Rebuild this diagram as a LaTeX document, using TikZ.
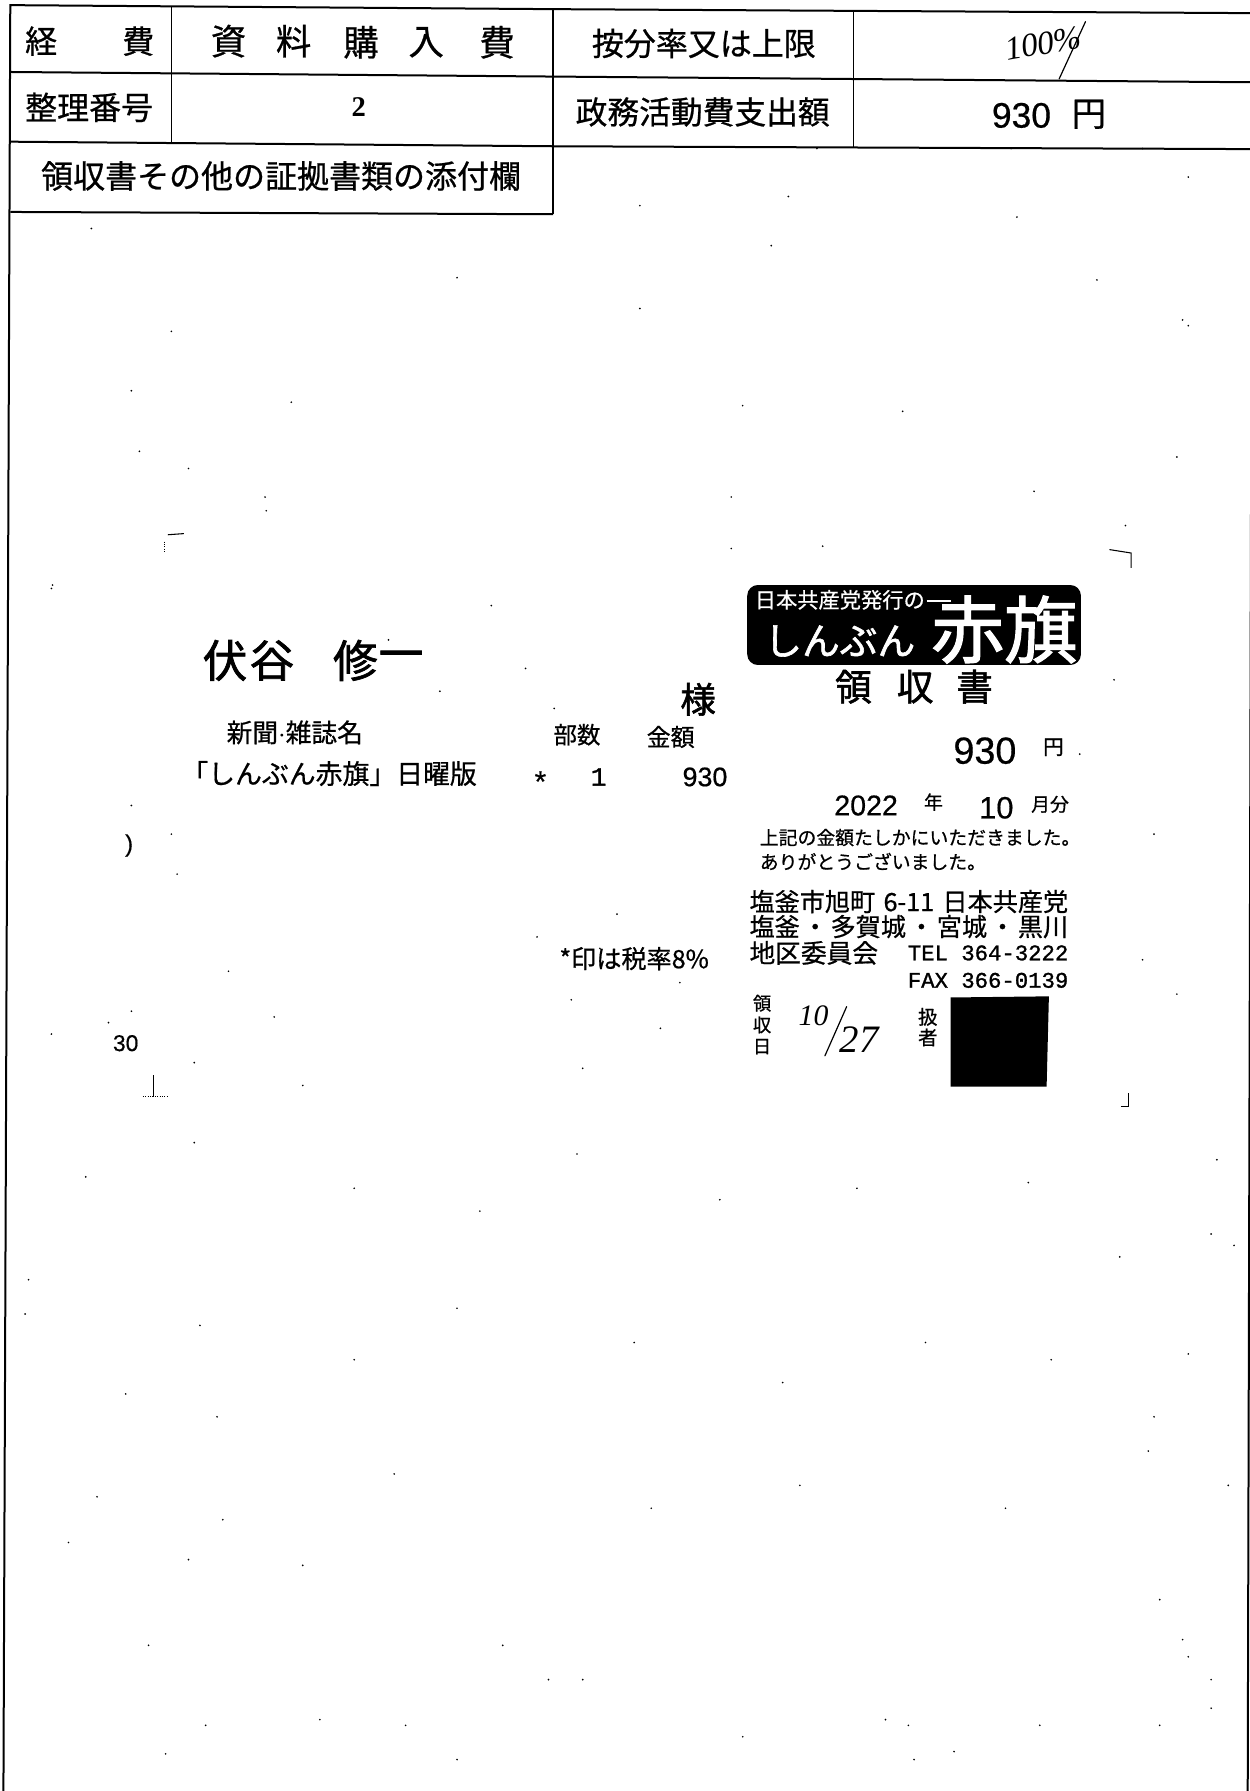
\documentclass[tikz,border=0pt]{standalone}
\usepackage{fontspec}
\setmainfont[RawFeature={embolden=0.5}]{Liberation Sans}
\setmonofont[RawFeature={embolden=1.2}]{Liberation Mono}
\newfontfamily\jp[RawFeature={embolden=0.7}]{Noto Sans CJK JP}
\newfontfamily\jph[RawFeature={embolden=1.6}]{Noto Sans CJK JP}
\newfontfamily\hand{Liberation Serif}
\newcommand{\fp}[1]{\pgfmathsetlengthmacro\myfs{#1*0.857pt}\fontsize{\myfs}{\myfs}\selectfont}
\tikzset{
  rule/.style={draw=black,line width=1.5pt},
  thinrule/.style={draw=black,line width=1.1pt},
  crop/.style={draw=black,line width=0.8pt},
  label/.style={inner sep=0pt,outer sep=0pt,text=black,font=\jp},
  ink/.style={draw=black,line width=0.9pt,line cap=round}
}
\begin{document}
\begin{tikzpicture}[x=0.857pt,y=-0.857pt]
\useasboundingbox (0,0) rectangle (1094,1567.5);
\fill[white] (0,0) rectangle (1094,1567.5);
% form rules
\draw[rule] (3,1568) -- (9,4.5) -- (483,8) -- (1096,11.5) -- (1092,1568);
\draw[rule] (9,63) -- (483,67) -- (1096,72);
\draw[rule] (9,124) -- (483,128) -- (1096,130.5);
\draw[rule] (9,185.5) -- (484,187.5);
\draw[thinrule] (150,5.5) -- (150,125);
\draw[thinrule] (484,8) -- (484,187.5);
\draw[thinrule] (747,9) -- (747,129);
% table text
\node[label,font=\jp\fp{28}] (a1) at (36,36) {経};
\node[label,font=\jp\fp{28}] (a2) at (121,36) {費};
\node[label,font=\jp\fp{31}] (b1) at (200,36) {資};
\node[label,font=\jp\fp{31}] (b2) at (257,36) {料};
\node[label,font=\jp\fp{31}] (b3) at (316,37) {購};
\node[label,font=\jp\fp{31}] (b4) at (373,37) {入};
\node[label,font=\jp\fp{31}] (b5) at (435,37) {費};
\node[label,font=\jp\fp{28}] (c) at (616,38) {按分率又は上限};
\node[label,font=\hand\itshape\fp{29},rotate=10] (pct) at (913,38) {100\%};
\coordinate (sl1) at (950,19);
\coordinate (sl2) at (927,69);
\draw[ink] (sl1) -- (sl2);
\node[label,font=\hand\bfseries\fp{25}] (n2) at (314,94) {2};
\node[label,font=\jp\fp{28}] (d) at (78,94) {整理番号};
\node[label,font=\jp\fp{27.8}] (e) at (615,98) {政務活動費支出額};
\node[label,font=\fp{31}] (f1) at (894,101) {930};
\node[label,font=\jp\fp{30}] (f2) at (953,100) {円};
\node[label,font=\jp\fp{28}] (g) at (246,154) {領収書その他の証拠書類の添付欄};
% crop marks
\coordinate (tl1) at (147,468); \coordinate (tl2) at (161,467);
\draw[crop] (tl1) -- (tl2);
\draw[crop,densely dotted] (144,474) -- (144,483);
\coordinate (tr1) at (971,481); \coordinate (tr2) at (990,484); \coordinate (tr3) at (990,497);
\draw[crop] (tr1) -- (tr2) -- (tr3);
\coordinate (br1) at (981,968); \coordinate (br2) at (988,968); \coordinate (br3) at (988,957);
\draw[crop] (br1) -- (br2) -- (br3);
\coordinate (bl1) at (134,941); \coordinate (bl2) at (134,960);
\draw[crop] (bl1) -- (bl2);
\draw[crop,densely dotted] (125,960) -- (147,960);
\node[label,font=\fp{21}] (cut1) at (113,740) {)};
\node[label,font=\fp{20}] (cut2) at (110,913) {30};
% receipt left
\node[label,font=\jph\fp{39}] (h1) at (197,578) {伏};
\node[label,font=\jph\fp{39}] (h2) at (238,578) {谷};
\node[label,font=\jph\fp{39}] (h3) at (311,578) {修};
\node[label,font=\jph\fp{39}] (h4) at (351,578) {一};
\node[label,font=\jph\fp{31}] (i) at (611,612) {様};
\node[label,font=\jp\fp{22.5}] (j) at (258,641) {新聞$\cdot$雑誌名};
\node[label,font=\jp\fp{20.5}] (k) at (505,643) {部数};
\node[label,font=\jp\fp{21}] (l) at (587,645) {金額};
\node[label,font=\jp\fp{23.5}] (m) at (288,677) {「しんぶん赤旗」日曜版};
\node[label,font=\fp{26}] (m1) at (473,684) {*};
\node[label,font=\ttfamily\fp{23}] (m2) at (524,680) {1};
\node[label,font=\fp{23.5}] (m3) at (617,680) {930};
\node[label,font=\jp\fp{22}] (o) at (555,839) {*印は税率8\%};
% logo
\node[label,fill=black,rounded corners=8pt,minimum width=250.3pt,minimum height=60pt] (logo) at (800,547) {};
\node[label,text=white,font=\jp\fp{18.6}] (p1) at (735,525) {日本共産党発行の};
\coordinate (pl1) at (811,526); \coordinate (pl2) at (832,526);
\draw[white,line width=1.2pt] (pl1) -- (pl2);
\node[label,text=white,font=\jph\fp{33}] (p2) at (735,561) {しんぶん};
\node[label,text=white,font=\jph\fp{64}] (p3) at (879,551) {赤旗};
% receipt right
\node[label,font=\jph\fp{32}] (q1) at (747,601) {領};
\node[label,font=\jph\fp{32}] (q2) at (801,601) {収};
\node[label,font=\jph\fp{32}] (q3) at (853,601) {書};
\node[label,font=\fp{33}] (r1) at (862,657) {930};
\node[label,font=\jp\fp{18}] (r2) at (922,654) {円};
\node[label,font=\fp{25}] (s1) at (758,705) {2022};
\node[label,font=\jp\fp{16.5}] (s2) at (817,702) {年};
\node[label,font=\fp{27}] (s3) at (872,707) {10};
\node[label,font=\jp\fp{16.5}] (s4) at (919,704) {月分};
\node[label,anchor=west,font=\jp\fp{16.5}] (t1) at (665,733) {上記の金額たしかにいただきました。};
\node[label,anchor=west,font=\jp\fp{16.5}] (t2) at (665,754) {ありがとうございました。};
\node[label,anchor=west,font=\jp\fp{22}] (u1) at (656,789) {\hbox to 239pt{塩釜市旭町\hfil 6-11\hfil 日本共産党}};
\node[label,anchor=west,font=\jp\fp{22}] (u2) at (656,811) {\hbox to 239pt{塩釜\hfil ・\hfil 多賀城\hfil ・\hfil 宮城\hfil ・\hfil 黒川}};
\node[label,anchor=west,font=\jp\fp{22.5}] (u3) at (656,834) {地区委員会};
\node[label,anchor=east,font=\ttfamily\fp{19.5}] (u4) at (935,834) {TEL 364-3222};
\node[label,anchor=east,font=\ttfamily\fp{19.5}] (u5) at (935,858) {FAX 366-0139};
\node[label,font=\jp\fp{16}] (v1) at (667,878) {領};
\node[label,font=\jp\fp{16}] (v2) at (667,897) {収};
\node[label,font=\jp\fp{16}] (v3) at (667,916) {日};
\node[label,font=\hand\itshape\fp{26}] (w1) at (712,889) {10};
\coordinate (wa) at (741,881); \coordinate (wb) at (722,924);
\draw[ink] (wa) -- (wb);
\node[label,font=\hand\itshape\fp{34}] (w2) at (752,910) {27};
\node[label,font=\jp\fp{17}] (x1) at (812,890) {扱};
\node[label,font=\jp\fp{17}] (x2) at (812,908) {者};
\fill[black] (832,873) -- (918,872) -- (916,951) -- (832,951) -- cycle;
% specks
\foreach \sx/\sy in {80/200,400/243,255/352,232/435,233/447,46/512,45/515,150/290,115/342,122/395,165/410,
 675/215,690/172,715/130,885/130,1000/130,1040/155,1035/280,890/190,1040/285,960/245,560/270,560/180,
 640/435,650/355,790/360,905/430,1030/400,985/460,975/595,945/660,385/605,460/585,485/620,430/530,340/560,
 115/705,155/765,150/730,45/905,200/850,240/890,500/875,525/830,540/800,470/820,595/860,510/935,578/900,
 640/480,720/478,115/885,95/895,170/930,265/950,1010/730,1000/840,1030/870,1065/1015,1040/1185,1060/1080,
 1005/1270,980/1100,900/1035,750/1040,630/1050,505/1010,420/1060,310/1040,170/1000,75/1030,22/1150,25/1120,
 175/1160,110/1220,190/1240,310/1190,400/1145,555/1175,685/1210,810/1175,920/1190,1010/1240,85/1310,
 195/1330,345/1290,570/1320,700/1300,880/1320,1015/1400,1040/1450,60/1350,165/1365,130/1440,265/1370,
 440/1440,480/1470,510/1470,650/1520,775/1505,795/1510,835/1533,910/1510,1060/1495,1015/1510,180/1510,
 280/1505,355/1510,145/1535,400/1540,800/1540,1035/1435,1080/1090,1075/1300,1060/1470}
  {\fill[black] (\sx,\sy) circle (0.7pt);}
\end{tikzpicture}
\end{document}
